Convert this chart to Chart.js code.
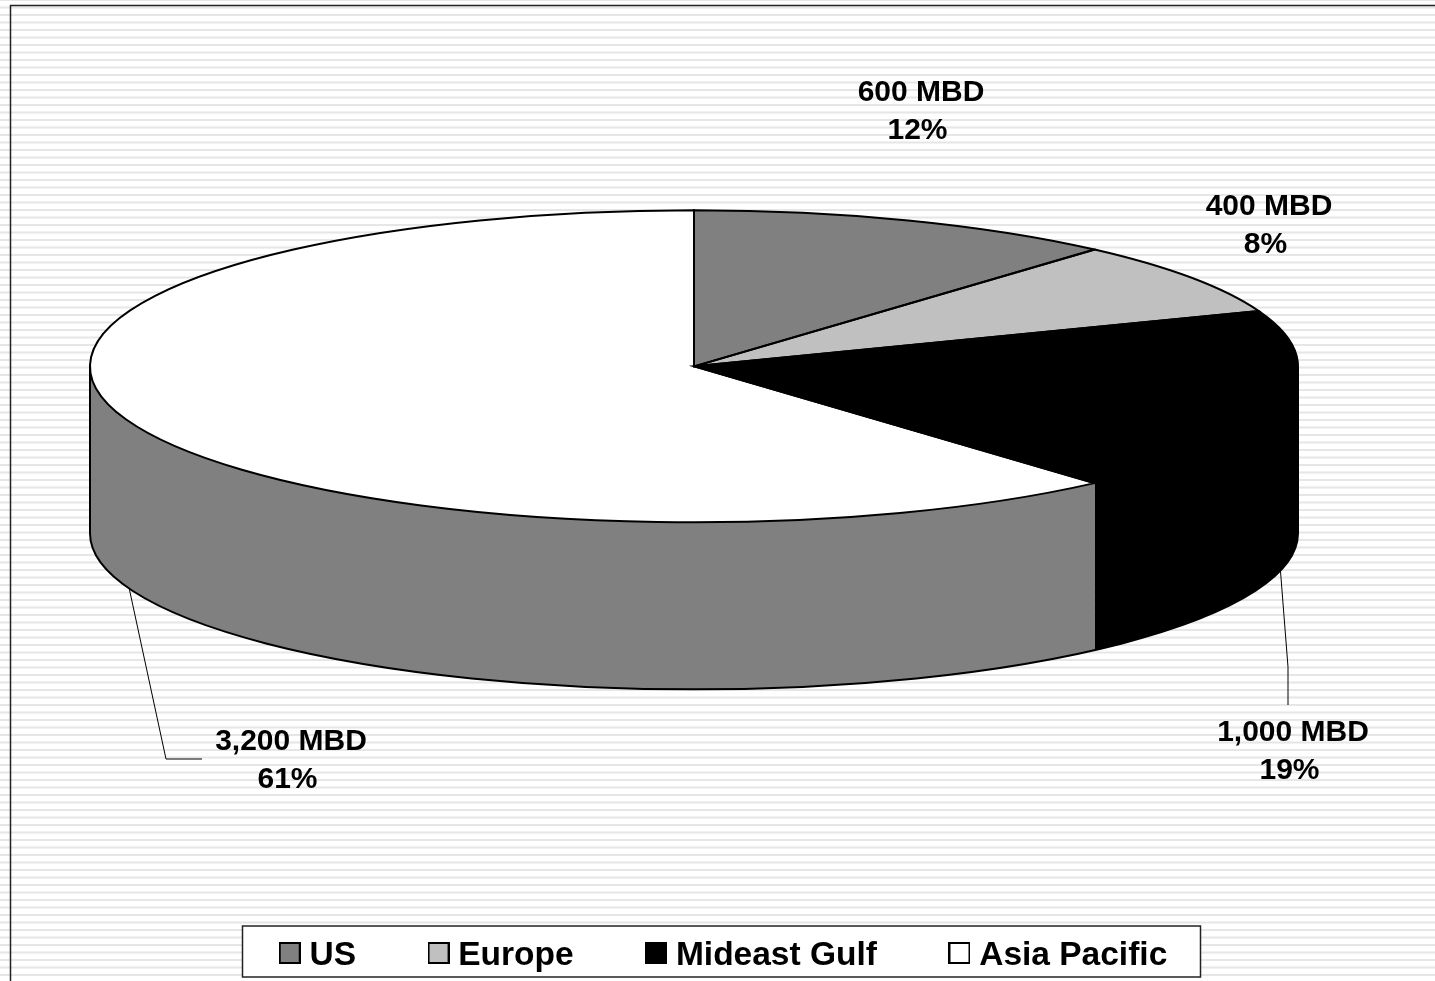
<!DOCTYPE html>
<html>
<head>
<meta charset="utf-8">
<title>Refining capacity by region</title>
<script src="https://cdn.jsdelivr.net/npm/chart.js@4"></script>
<style>
    html, body { margin: 0; padding: 0; background: #fff; overflow: hidden; }
    canvas { display: block; }
</style>
</head>
<body>
<canvas id="pieChart" width="1435" height="981"></canvas>
<script>
// Chart data
const regions = ['US', 'Europe', 'Mideast Gulf', 'Asia Pacific'];
const volumes = [600, 400, 1000, 3200];
const shares = [12, 8, 19, 61];

// Slice colours
const topColors = ['#808080', '#c0c0c0', '#000000', '#ffffff'];
const wallColors = ['#808080', '#c0c0c0', '#000000', '#808080'];

// Pie geometry
const pieRadius = 604;
const squash = 156 / 604;
const depth = 167;

// Label centres (first line, vertical middle) and leader lines
const labelSpots = [[921, 93], [1269, 207], [1293, 733], [291, 742]];
const leaderBends = [null, null, [[1288, 667], [1288, 705]], [[166, 759], [202, 759]]];
const labelFont = 'bold 30px "Liberation Sans", Arial, sans-serif';
const lineGap = 38;
const shareShift = -3.5;

// Striped page background, outer frame and legend frame
function drawBackdrop(chart) {
    const ctx = chart.ctx;
    ctx.save();
    ctx.fillStyle = '#ffffff';
    ctx.fillRect(0, 0, chart.width, chart.height);
    ctx.fillStyle = '#e6e6e6';
    for (let y = -1; y < chart.height; y += 7.5) {
        ctx.fillRect(0, y, chart.width, 2);
    }
    ctx.strokeStyle = '#222222';
    ctx.lineWidth = 1.5;
    ctx.beginPath();
    ctx.moveTo(10.5, chart.height);
    ctx.lineTo(10.5, 5.5);
    ctx.lineTo(chart.width, 5.5);
    ctx.stroke();

    ctx.fillStyle = '#ffffff';
    ctx.fillRect(242.5, 926, 958, 51);
    ctx.strokeRect(242.5, 926, 958, 51);
    ctx.restore();
}

// Legend swatch; the spare rows underneath lift the square level with the text
function makeSwatch(color) {
    const swatch = document.createElement('canvas');
    swatch.width = 22;
    swatch.height = 27;
    const ctx = swatch.getContext('2d');
    ctx.fillStyle = color;
    ctx.fillRect(0, 0, 22, 22);
    ctx.strokeStyle = '#000000';
    ctx.lineWidth = 2;
    ctx.strokeRect(1, 1, 20, 20);
    return swatch;
}

// Side wall of the cylinder below the visible half of the rim
function drawWalls(chart) {
    const ctx = chart.ctx;
    const arcs = chart.getDatasetMeta(0).data;
    arcs.forEach((arc, i) => {
        const from = Math.max(arc.startAngle, 0);
        const to = Math.min(arc.endAngle, Math.PI);
        if (to <= from) return;
        ctx.beginPath();
        ctx.ellipse(arc.x, arc.y, arc.outerRadius, arc.outerRadius * squash, 0, from, to);
        ctx.ellipse(arc.x, arc.y + depth, arc.outerRadius, arc.outerRadius * squash, 0, to, from, true);
        ctx.closePath();
        ctx.fillStyle = wallColors[i];
        ctx.fill();
    });

    const first = arcs[0];
    ctx.beginPath();
    ctx.moveTo(first.x - first.outerRadius, first.y);
    ctx.lineTo(first.x - first.outerRadius, first.y + depth);
    ctx.ellipse(first.x, first.y + depth, first.outerRadius, first.outerRadius * squash, 0, Math.PI, 0, true);
    ctx.lineTo(first.x + first.outerRadius, first.y);
    ctx.strokeStyle = '#000000';
    ctx.lineWidth = 2;
    ctx.stroke();
}

// Slice outlines, stroked after the squash is undone so the pen stays even
function drawOutlines(chart) {
    const ctx = chart.ctx;
    ctx.strokeStyle = '#000000';
    ctx.lineWidth = 2;
    chart.getDatasetMeta(0).data.forEach(arc => {
        ctx.beginPath();
        ctx.moveTo(arc.x, arc.y);
        ctx.ellipse(arc.x, arc.y, arc.outerRadius, arc.outerRadius * squash, 0, arc.startAngle, arc.endAngle);
        ctx.closePath();
        ctx.stroke();
    });
}

// Value labels with leader lines running from the middle of the slice rim
function drawLabels(chart) {
    const ctx = chart.ctx;
    const arcs = chart.getDatasetMeta(0).data;
    ctx.save();
    arcs.forEach((arc, i) => {
        const bends = leaderBends[i];
        if (bends) {
            const mid = (arc.startAngle + arc.endAngle) / 2;
            ctx.beginPath();
            ctx.moveTo(arc.x + arc.outerRadius * Math.cos(mid),
                arc.y + depth + arc.outerRadius * squash * Math.sin(mid));
            bends.forEach(p => ctx.lineTo(p[0], p[1]));
            ctx.strokeStyle = '#000000';
            ctx.lineWidth = 1;
            ctx.stroke();
        }
        const spot = labelSpots[i];
        ctx.font = labelFont;
        ctx.fillStyle = '#000000';
        ctx.textAlign = 'center';
        ctx.textBaseline = 'middle';
        ctx.fillText(volumes[i].toLocaleString('en-US') + ' MBD', spot[0], spot[1]);
        ctx.fillText(shares[i] + '%', spot[0] + shareShift, spot[1] + lineGap);
    });
    ctx.restore();
}

const pie3d = {
    id: 'pie3d',
    beforeDraw: drawBackdrop,
    afterLayout(chart) {
        // The legend only needs its row, so pull it down into the frame
        const legend = chart.legend;
        const padding = legend.options.labels.padding;
        legend.top = 955.5 - 16.75 - padding;
        legend.bottom = chart.height;
        legend.left += 33;
        legend.right += 33;
    },
    beforeDatasetsDraw(chart) {
        drawWalls(chart);
        const arc = chart.getDatasetMeta(0).data[0];
        const ctx = chart.ctx;
        ctx.save();
        ctx.translate(arc.x, arc.y);
        ctx.scale(1, squash);
        ctx.translate(-arc.x, -arc.y);
    },
    afterDatasetsDraw(chart) {
        chart.ctx.restore();
        drawOutlines(chart);
    },
    afterDraw: drawLabels
};

new Chart(document.getElementById('pieChart').getContext('2d'), {
    type: 'pie',
    data: {
        labels: regions,
        datasets: [{
            data: volumes,
            backgroundColor: topColors,
            borderWidth: 0,
            clip: false
        }]
    },
    plugins: [pie3d],
    options: {
        responsive: false,
        animation: false,
        radius: pieRadius,
        layout: { padding: { left: 0, right: 47, top: 0, bottom: 125.3 } },
        plugins: {
            tooltip: { enabled: false },
            legend: {
                position: 'bottom',
                labels: {
                    usePointStyle: true,
                    boxWidth: 6,
                    boxHeight: 22,
                    padding: 79.5,
                    color: '#000000',
                    font: { family: '"Liberation Sans", Arial, sans-serif', size: 33.5, weight: 'bold' },
                    generateLabels: chart => regions.map((name, i) => ({
                        text: name,
                        fillStyle: topColors[i],
                        strokeStyle: '#000000',
                        lineWidth: 2,
                        pointStyle: makeSwatch(topColors[i]),
                        index: i
                    }))
                }
            }
        }
    }
});
</script>
</body>
</html>
